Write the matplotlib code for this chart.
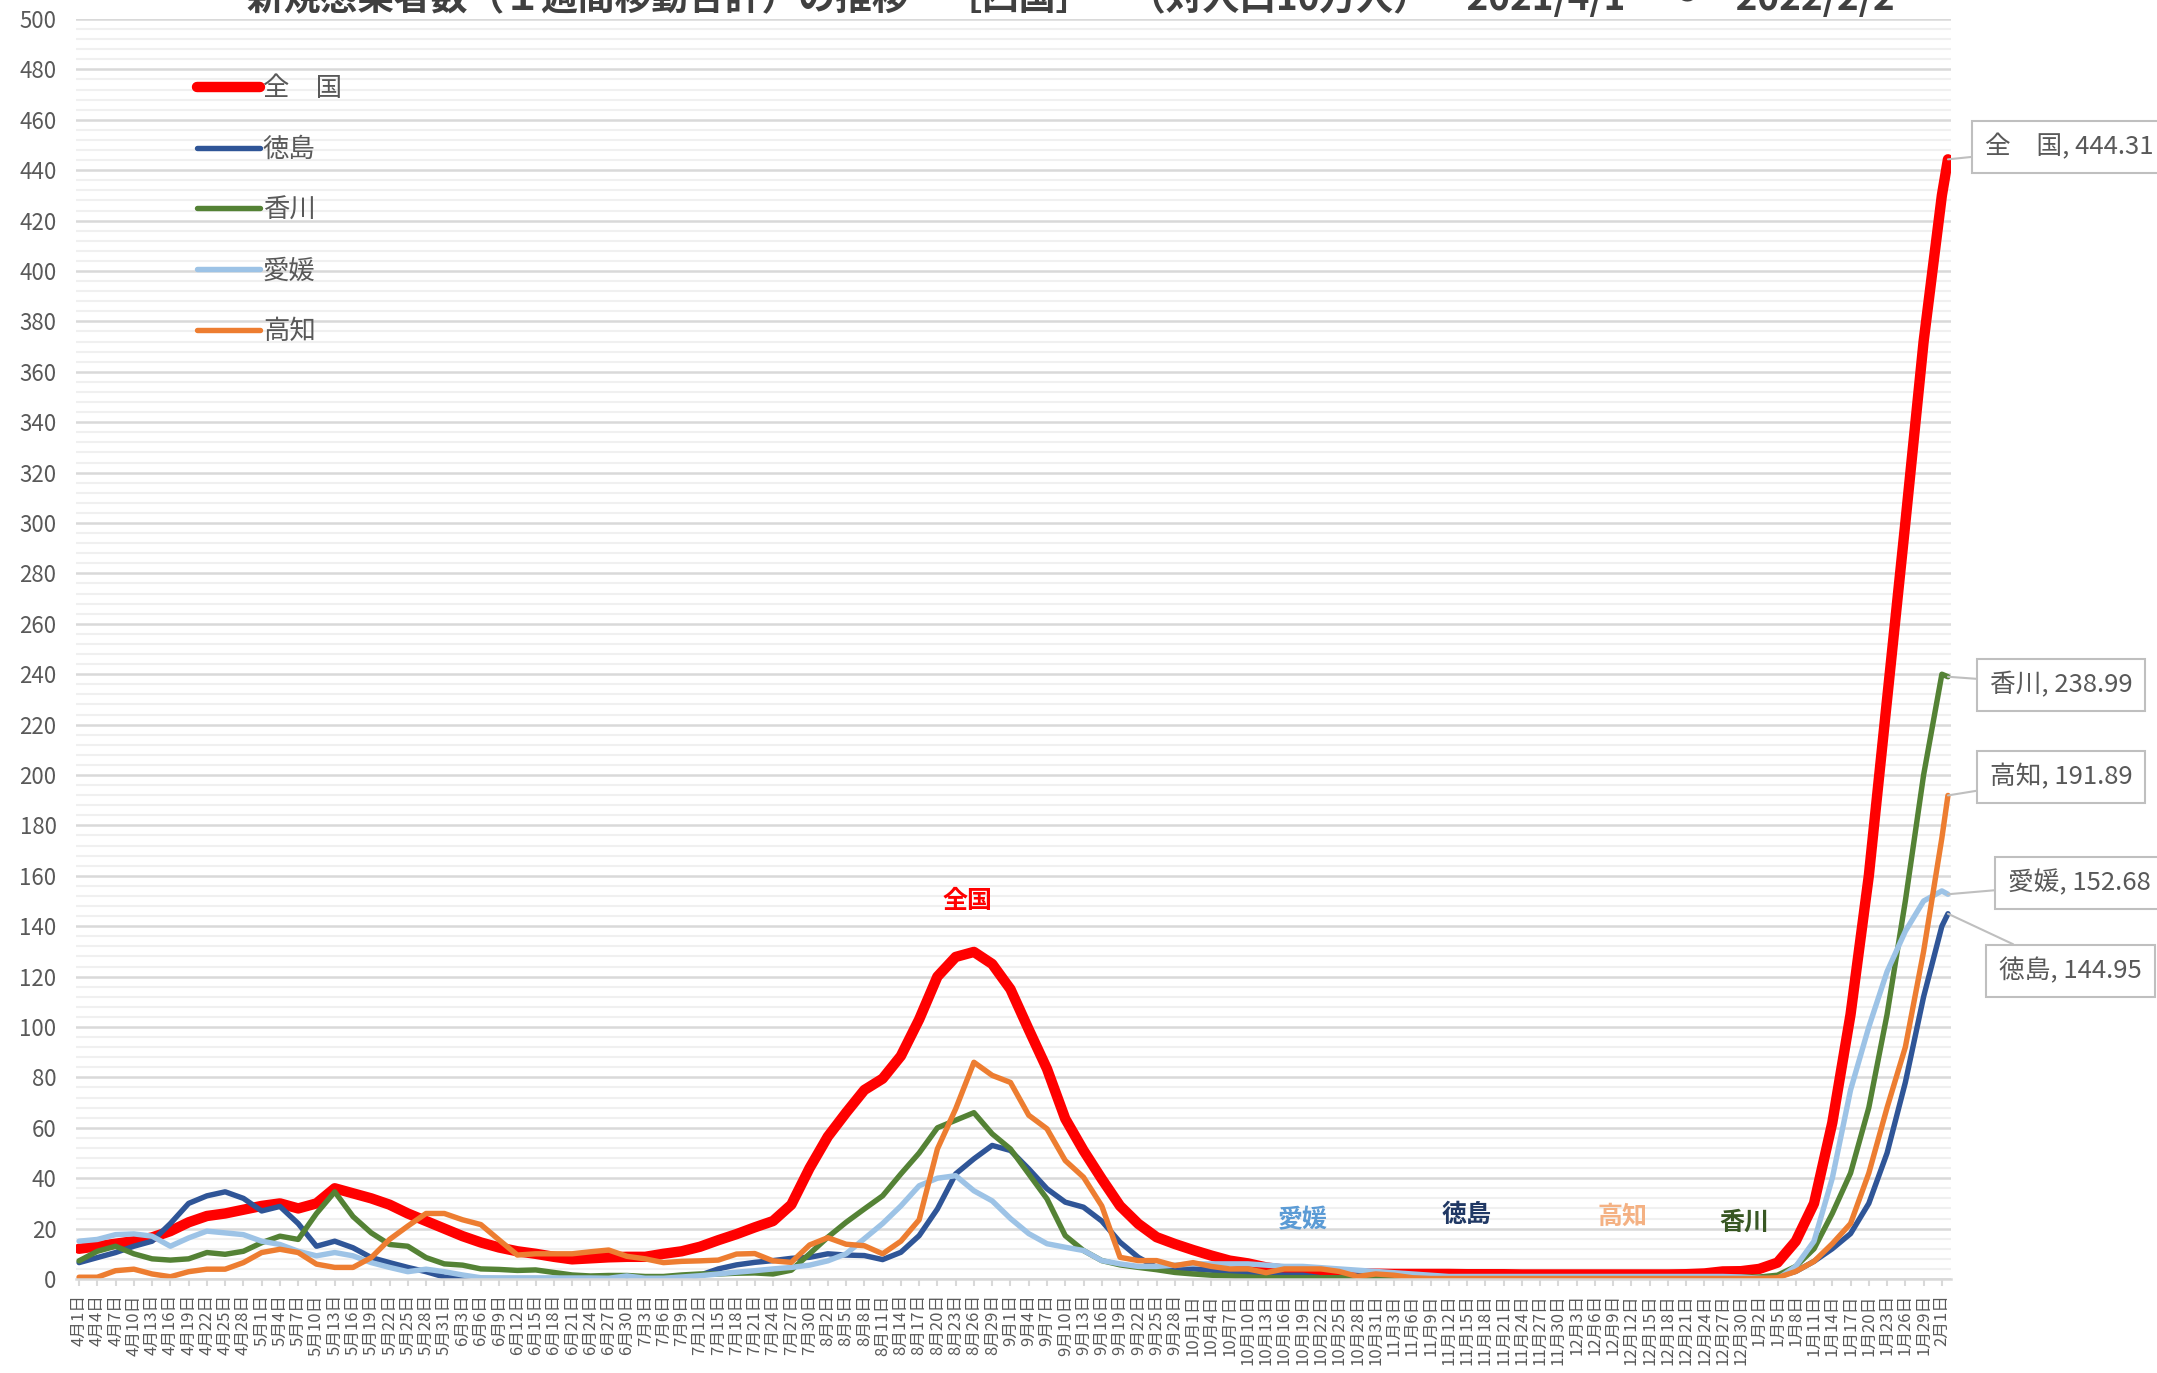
import matplotlib
matplotlib.use('Agg')
import matplotlib.pyplot as plt
from matplotlib.ticker import MultipleLocator, FixedLocator
import pandas as pd

plt.rcParams['font.family'] = ['Noto Sans CJK JP', 'DejaVu Sans']

# ---- data (7-day totals per 100k, read every 3 days + last day) ----
start = pd.Timestamp('2021-04-01')
end = pd.Timestamp('2022-02-02')
n_days = (end - start).days + 1
sample_days = list(range(0, n_days - 1, 3)) + [n_days - 1]

national = [
    12, 13, 14, 15, 16.5, 19, 22.5, 25, 26, 27.5,
    29, 30, 28, 30, 36, 34, 32, 29.5, 26, 23,
    20, 17, 14.5, 12.5, 11, 10, 8.8, 7.8, 8.2, 8.6,
    8.8, 8.8, 10, 11, 12.8, 15.4, 17.8, 20.5, 23, 29.5,
    44, 56.5, 66, 75, 79.5, 88.5, 103, 120, 127.8, 129.8,
    125, 115, 99, 83.4, 63.6, 51, 39.7, 29, 21.9, 16.6,
    13.9, 11.5, 9.3, 7.3, 6.2, 4.6, 3.7, 3.0, 2.6, 2.4,
    2.2, 2.1, 2.0, 2.0, 2.0, 2.0, 1.9, 1.9, 1.9, 1.8,
    1.8, 1.8, 1.8, 1.8, 1.8, 1.8, 1.8, 1.8, 1.9, 2.2,
    3.0, 3.1, 4.0, 6.5, 15, 30, 62, 105, 160, 230,
    300, 372, 430, 444.31,
]
tokushima = [
    6.5, 8.5, 10.5, 13, 15, 22, 30, 33, 34.6, 32,
    27, 28.8, 22, 13, 15, 12.4, 8.5, 6.5, 4.6, 2.9,
    0.8, 0.3, 0.2, 0.2, 0.2, 0.2, 0.2, 0.2, 0.2, 0.2,
    0.2, 0.2, 0.2, 0.5, 1.5, 4, 5.6, 6.6, 7.3, 8.2,
    8.6, 10, 9.5, 9.3, 7.7, 10.6, 17.2, 27.8, 41.7, 47.7,
    53, 51, 43.7, 35.8, 30.5, 28.5, 23, 14.6, 8.6, 4.6,
    4, 4, 3.5, 3, 2.5, 2, 1.5, 1.5, 0.5, 0.5,
    1.5, 1.5, 1, 0.5, 0.5, 0.5, 0.5, 0.5, 0.5, 0.5,
    0.5, 0.5, 0.5, 0.5, 0.5, 0.5, 0.5, 0.5, 0.5, 0.5,
    0.5, 0.5, 0.5, 1, 3, 7, 12, 18, 30, 50,
    78, 112, 140, 144.95,
]
kagawa = [
    7.2, 11, 13, 10, 8, 7.5, 8, 10.5, 9.8, 11,
    14.4, 17, 15.7, 26, 34.6, 24.8, 18.3, 13.7, 13, 8.5,
    6, 5.5, 4, 3.8, 3.4, 3.6, 2.6, 1.6, 1.2, 1.4,
    1.4, 1, 1, 1.6, 2, 2, 2.3, 2.4, 2, 3.5,
    10, 16.6, 22.5, 27.8, 33, 41.7, 50, 60, 63, 66,
    57.6, 51.6, 41.7, 31.8, 17.2, 11.3, 7.3, 5.6, 4.6, 3.7,
    2.6, 2, 1.5, 1.2, 0.8, 0.5, 0.5, 0.5, 0.5, 0.5,
    0.5, 0.5, 0.5, 0.5, 0.5, 0.5, 0.5, 0.5, 0.5, 0.5,
    0.5, 0.5, 0.5, 0.5, 0.5, 0.5, 0.5, 0.5, 0.5, 0.5,
    0.5, 0.8, 0.8, 1.5, 5, 12, 26, 42, 68, 105,
    150, 200, 240, 238.99,
]
ehime = [
    15, 15.7, 17.6, 17.9, 17, 13, 16.3, 19, 18.3, 17.6,
    15, 13.7, 11, 9.2, 10.5, 9.2, 6.5, 4.6, 2.9, 3.9,
    2.9, 1.6, 0.5, 0.4, 0.4, 0.4, 0.4, 0.4, 0.4, 0.3,
    1.2, 0.3, 0.3, 0.8, 1.3, 2, 2.7, 3.3, 4, 4.6,
    5.5, 7.2, 10, 16, 22, 29, 37, 40, 41, 35,
    31, 24, 18, 14, 12.6, 11.3, 7.3, 6, 5, 5,
    5.5, 6, 6, 6, 6, 5.5, 5, 5, 4.5, 4,
    3.5, 3, 2.5, 2, 1.5, 1, 1, 1, 1, 1,
    1, 1, 1, 1, 1, 1, 1, 1, 1, 1,
    1, 0.8, 0.3, 0, 5, 15, 40, 75, 100, 122,
    138, 150, 154, 152.68,
]
kochi = [
    0.7, 0.7, 3.3, 3.9, 2, 0.9, 2.9, 3.9, 3.9, 6.5,
    10.5, 11.8, 10.5, 5.9, 4.6, 4.6, 8.5, 15.7, 21, 26,
    26, 23.5, 21.6, 15.5, 9.5, 10, 10, 10, 10.8, 11.5,
    9, 8, 6.5, 7, 7.2, 7.5, 9.9, 10.1, 7.2, 6.6,
    13.5, 16.4, 13.8, 13.2, 10, 15, 23.5, 51.6, 67.5, 86,
    80.8, 78, 65, 59.6, 47, 40.4, 29, 8.6, 7.3, 7.3,
    5.3, 6.5, 5, 4, 4, 2.5, 4, 4, 4, 3,
    1, 2, 1.5, 0.5, 0.2, 0.2, 0.2, 0.2, 0.2, 0.2,
    0.2, 0.2, 0.2, 0.2, 0.2, 0.2, 0.2, 0.2, 0.2, 0.2,
    0.2, 0.2, 0.2, 0.5, 3, 7, 14, 22, 42, 68,
    92, 130, 175, 191.89,
]

names = ['全\u3000国', '徳島', '香川', '愛媛', '高知']
series = [national, tokushima, kagawa, ehime, kochi]
colors = ['#FF0000', '#2F5597', '#548235', '#9DC3E6', '#ED7D31']
widths = [7.5, 3.9, 3.9, 3.9, 3.9]

tick_days = list(range(0, n_days - 1, 3))
tick_labels = []
for d in tick_days:
    t = start + pd.Timedelta(days=d)
    tick_labels.append(f"{t.month}月{t.day}日")

title = '新規感染者数（１週間移動合計）の推移　［四国］　（対人口10万人）　2021/4/1　～　2022/2/2'

W, H = 2157, 1373
fig = plt.figure(figsize=(W / 100, H / 100), dpi=100)
ax = fig.add_axes([76 / W, 94 / H, 1875 / W, 1260 / H])

for name, vals, c, lw in zip(names, series, colors, widths):
    ax.plot(sample_days, vals, color=c, lw=lw, label=name,
            solid_capstyle='round', solid_joinstyle='round')

ax.set_xlim(-0.5, n_days - 0.5)
ax.set_ylim(0, 500)

ax.yaxis.set_major_locator(MultipleLocator(20))
ax.yaxis.set_minor_locator(MultipleLocator(4))
ax.grid(axis='y', which='major', color='#D9D9D9', lw=1.8, zorder=0)
ax.grid(axis='y', which='minor', color='#F0F0F0', lw=1.5, zorder=0)
ax.set_axisbelow(True)
ax.tick_params(axis='y', which='both', length=0, pad=14,
               labelsize=16, labelcolor='#595959')

ax.xaxis.set_major_locator(FixedLocator(tick_days))
ax.set_xticklabels(tick_labels, rotation=90, va='top', ha='center')
ax.tick_params(axis='x', length=5, width=1.5, color='#D9D9D9', pad=6,
               labelsize=12, labelcolor='#595959')

for s in ['left', 'right', 'top']:
    ax.spines[s].set_visible(False)
ax.spines['bottom'].set_color('#D9D9D9')
ax.spines['bottom'].set_linewidth(1.8)

ax.legend(loc='upper left', bbox_to_anchor=(197 / W, 1 - 75 / H),
          bbox_transform=fig.transFigure, frameon=False, fontsize=19,
          labelcolor='#595959', handlelength=2.4, handletextpad=0.1,
          labelspacing=1.28, borderpad=0, borderaxespad=0)

# end-point callouts
callouts = [
    ('全\u3000国', national[-1], 1985, 147),
    ('香川', kagawa[-1], 1990, 685),
    ('高知', kochi[-1], 1990, 777),
    ('愛媛', ehime[-1], 2008, 883),
    ('徳島', tokushima[-1], 1999, 971),
]
for name, v, px, py in callouts:
    ax.annotate(f"{name}, {v:.2f}", xy=(n_days - 1, v), xycoords='data',
                xytext=(px, H - py), textcoords='figure pixels',
                ha='left', va='center', fontsize=18.5, color='#595959',
                bbox=dict(boxstyle='square,pad=0.5', fc='white',
                          ec='#BFBFBF', lw=1.5),
                arrowprops=dict(arrowstyle='-', color='#BFBFBF', lw=1.5,
                                shrinkA=0, shrinkB=0),
                annotation_clip=False)

# in-plot labels
ax.text(146, 150, '全国', color='#FF0000', fontsize=18, fontweight='bold',
        ha='center', va='center')
ax.text(201, 23.5, '愛媛', color='#5B9BD5', fontsize=18, fontweight='bold',
        ha='center', va='center')
ax.text(228, 25.5, '徳島', color='#203864', fontsize=18, fontweight='bold',
        ha='center', va='center')
ax.text(253.5, 24.5, '高知', color='#F4B183', fontsize=18, fontweight='bold',
        ha='center', va='center')
ax.text(273.5, 22.5, '香川', color='#385723', fontsize=18, fontweight='bold',
        ha='center', va='center')

fig.text(1071 / W, 1 - 10 / H, title, ha='center', va='baseline',
         fontsize=26.5, fontweight='bold', color='#404040')

fig.savefig('out.png', dpi=100, facecolor='white')
